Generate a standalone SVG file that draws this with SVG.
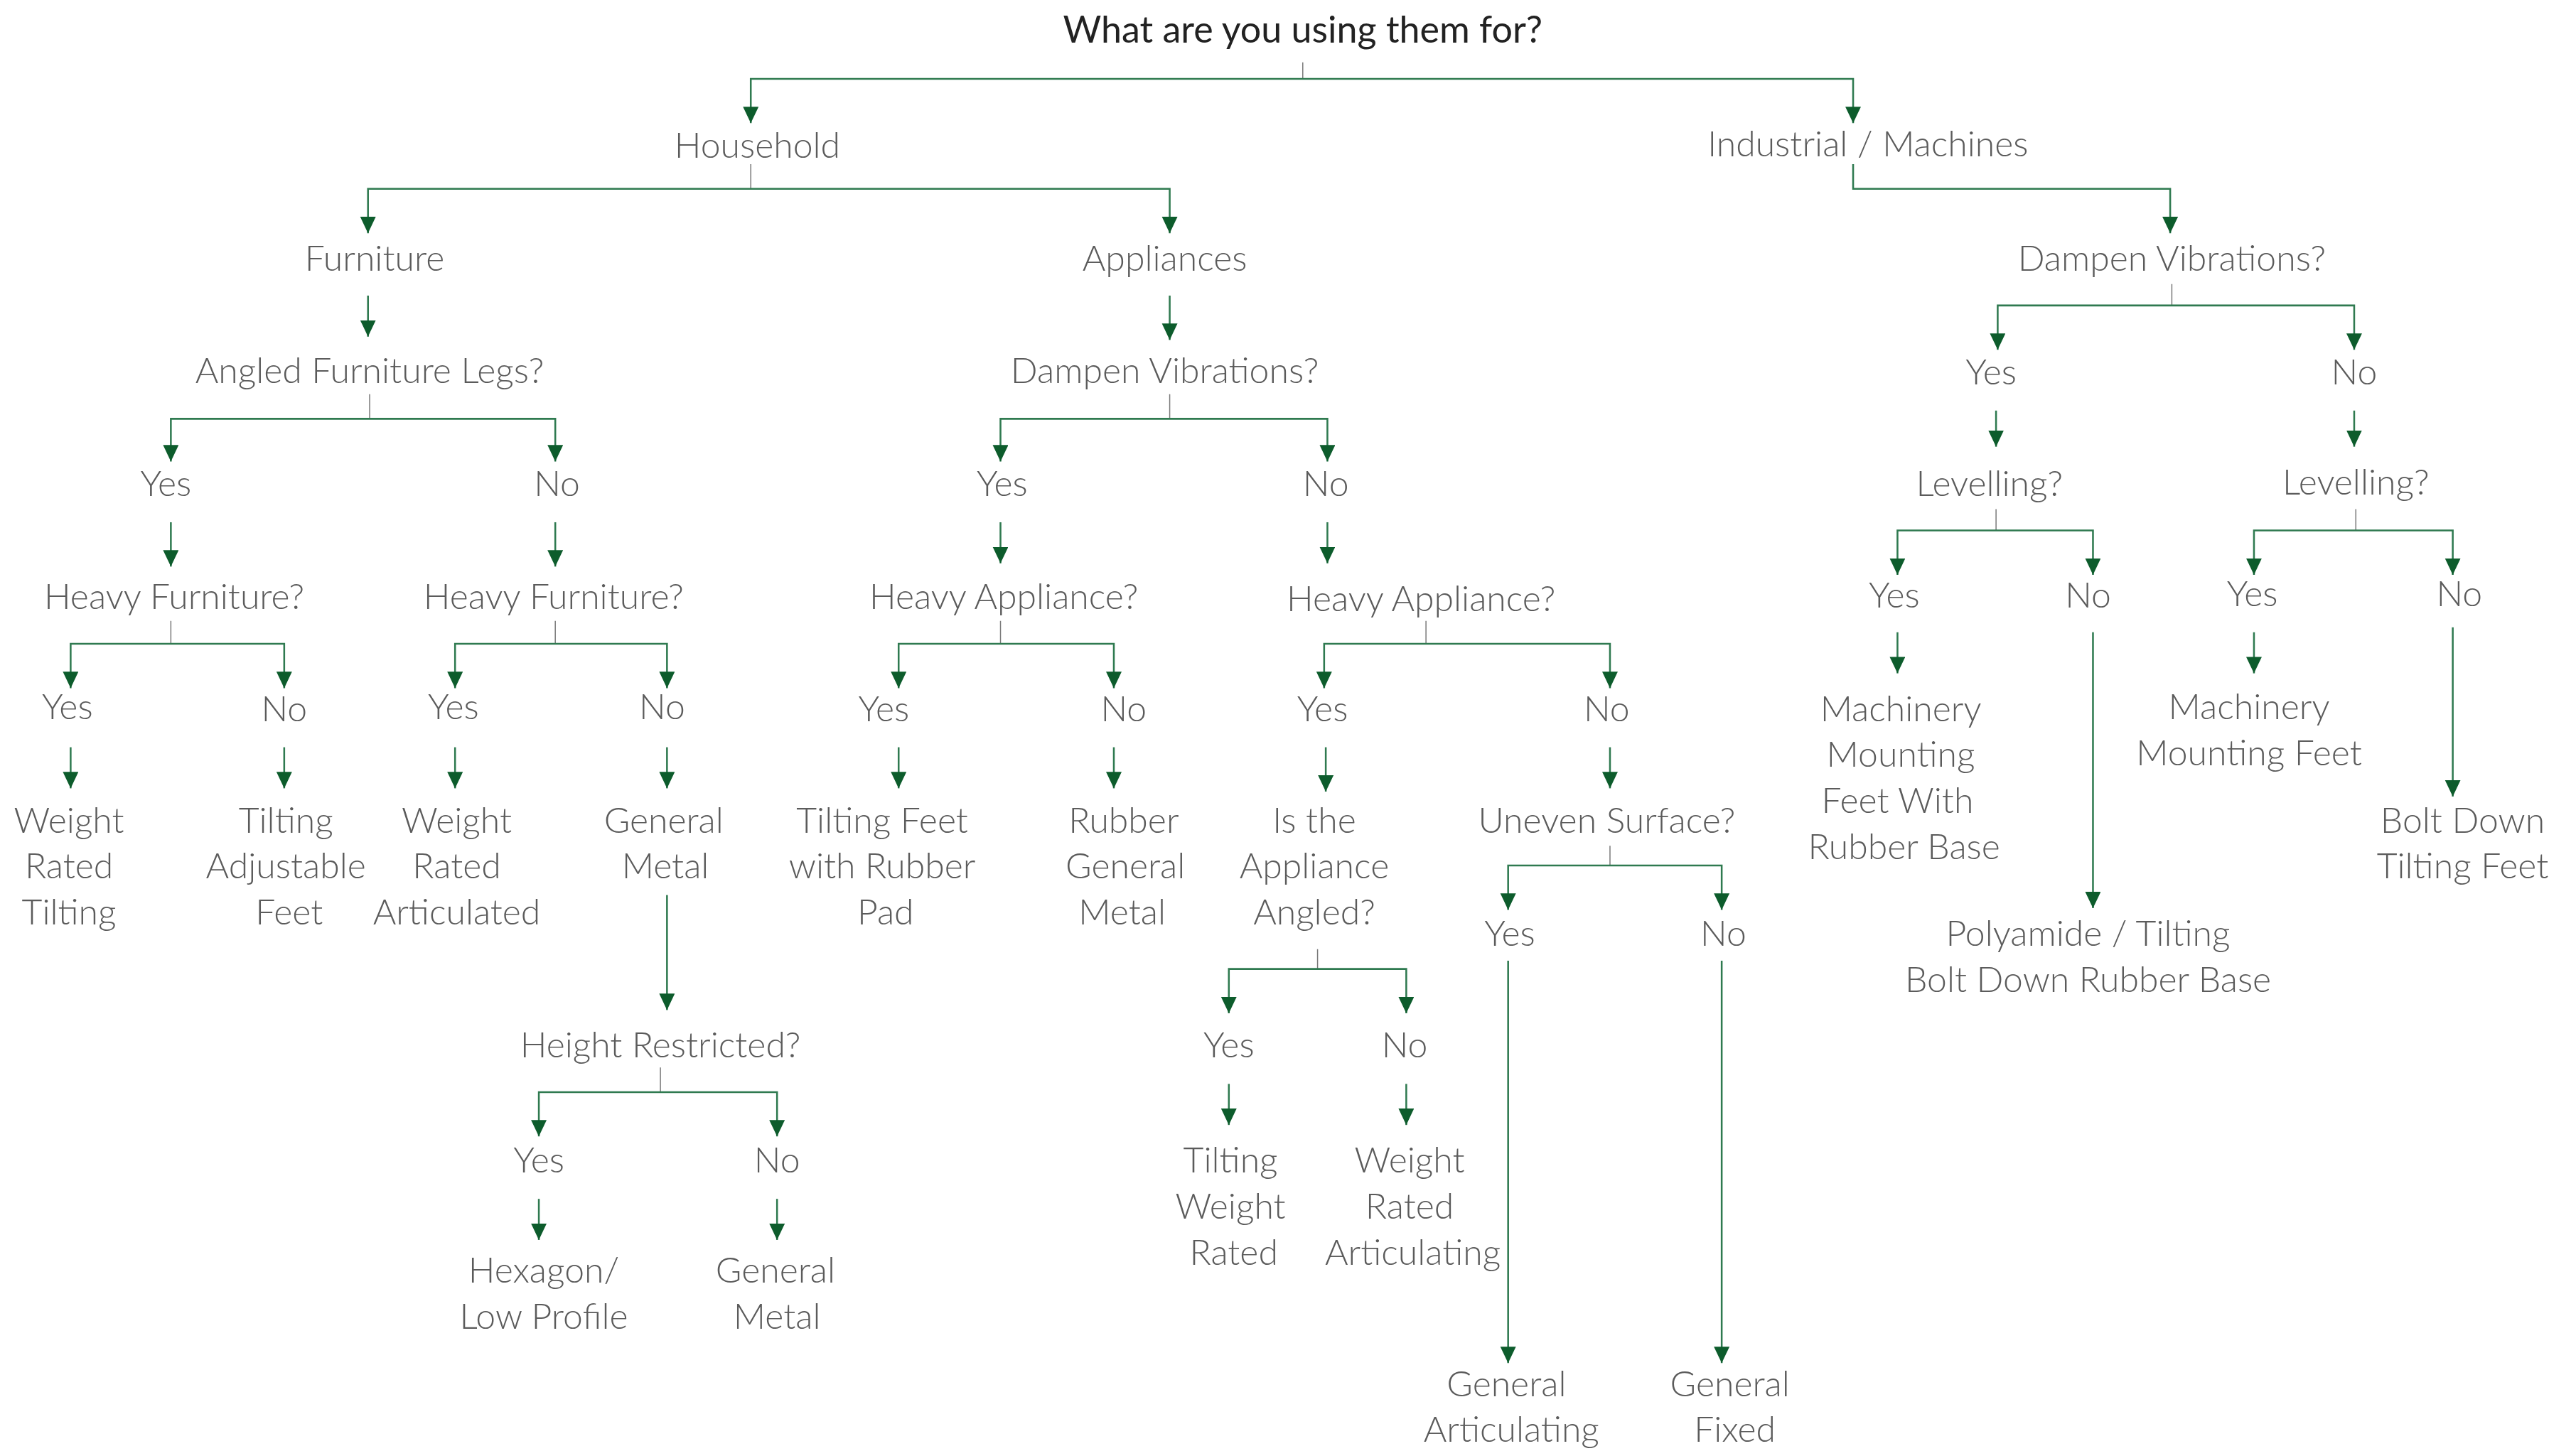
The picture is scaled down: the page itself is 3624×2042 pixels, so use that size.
<svg xmlns="http://www.w3.org/2000/svg" width="3624" height="2042" viewBox="0 0 3624 2042">
<style>
text{font-family:"Lato","Open Sans","Liberation Sans",sans-serif;font-size:21.6px;fill:#5b5b5b;text-anchor:middle;font-weight:300}
.title{font-size:22.5px;fill:#222;font-weight:400}
.stem{stroke:#7a7a7a;stroke-width:0.65;fill:none}
.br{stroke:#2f7a50;stroke-width:1.1;fill:none;marker-start:url(#ah);marker-end:url(#ah)}
.ar{stroke:#2f7a50;stroke-width:1.1;fill:none;marker-end:url(#ah)}
</style>
<defs>
<marker id="ah" markerUnits="userSpaceOnUse" markerWidth="11" markerHeight="11" refX="10" refY="4.75" orient="auto-start-reverse"><path d="M0,0 L10,4.75 L0,9.5 z" fill="#0d5c2c"/></marker>
</defs>
<rect width="3624" height="2042" fill="#fff"/>
<g transform="scale(2.3112)">
<g id="connectors">
<path class="stem" d="M793 38V48M457 100V115M225 240V255M104 378V392M338 378V392M402 650V665M712 240V255M609 378V392M868 378V392M802 578V590M980 515V527M1322 173V186M1215 310V323M1434 310V323"/>
<path class="br" d="M457 75V48H1128V75"/>
<path class="br" d="M224 142V115H712V142"/>
<path class="br" d="M104 281V255H338V281"/>
<path class="br" d="M43 419V392H173V419"/>
<path class="br" d="M277 419V392H406V419"/>
<path class="br" d="M328 692V665H473V692"/>
<path class="br" d="M609 281V255H808V281"/>
<path class="br" d="M547 419V392H678V419"/>
<path class="br" d="M806 419V392H980V419"/>
<path class="br" d="M748 617V590H856V617"/>
<path class="br" d="M918 554V527H1048V554"/>
<path class="br" d="M1216 213V186H1433V213"/>
<path class="br" d="M1155 350V323H1274V350"/>
<path class="br" d="M1372 350V323H1493V350"/>
<path class="ar" d="M1128 100V115H1321V142"/>
<path class="ar" d="M224 180V205"/>
<path class="ar" d="M104 318V345"/>
<path class="ar" d="M338 318V345"/>
<path class="ar" d="M43 455V480"/>
<path class="ar" d="M173 455V480"/>
<path class="ar" d="M277 455V480"/>
<path class="ar" d="M406 455V480"/>
<path class="ar" d="M406 545V615"/>
<path class="ar" d="M328 730V755"/>
<path class="ar" d="M473 730V755"/>
<path class="ar" d="M712 180V207"/>
<path class="ar" d="M609 318V343"/>
<path class="ar" d="M808 318V343"/>
<path class="ar" d="M547 455V480"/>
<path class="ar" d="M678 455V480"/>
<path class="ar" d="M807 455V482"/>
<path class="ar" d="M980 455V480"/>
<path class="ar" d="M748 660V685"/>
<path class="ar" d="M856 660V685"/>
<path class="ar" d="M918 585V830"/>
<path class="ar" d="M1048 585V830"/>
<path class="ar" d="M1215 250V272"/>
<path class="ar" d="M1433 250V272"/>
<path class="ar" d="M1155 385V410"/>
<path class="ar" d="M1274 385V553"/>
<path class="ar" d="M1372 385V410"/>
<path class="ar" d="M1493 382V485"/>
</g>
<g id="title"><text class="title" x="793" y="26">What are you using them for?</text></g>
<g id="household"><text x="461" y="96">Household</text></g>
<g id="industrial"><text x="1137" y="95">Industrial / Machines</text></g>
<g id="furniture"><text x="228" y="165">Furniture</text></g>
<g id="appliances"><text x="709" y="165">Appliances</text></g>
<g id="ind-dampen"><text x="1322" y="165">Dampen Vibrations?</text></g>
<g id="angled"><text x="225" y="233">Angled Furniture Legs?</text></g>
<g id="angled-yes"><text x="101" y="302">Yes</text></g>
<g id="angled-no"><text x="339" y="302">No</text></g>
<g id="hf1"><text x="106" y="371">Heavy Furniture?</text></g>
<g id="hf2"><text x="337" y="371">Heavy Furniture?</text></g>
<g id="hf1-yes"><text x="41" y="438">Yes</text></g>
<g id="hf1-no"><text x="173" y="439">No</text></g>
<g id="wrt"><text x="42" y="507">Weight<tspan x="42" dy="28">Rated</tspan><tspan x="42" dy="28">Tilting</tspan></text></g>
<g id="taf"><text x="174" y="507">Tilting<tspan x="174" dy="28">Adjustable</tspan><tspan x="176" dy="28">Feet</tspan></text></g>
<g id="hf2-yes"><text x="276" y="438">Yes</text></g>
<g id="hf2-no"><text x="403" y="438">No</text></g>
<g id="wra"><text x="278" y="507">Weight<tspan x="278" dy="28">Rated</tspan><tspan x="278" dy="28">Articulated</tspan></text></g>
<g id="gm1"><text x="404" y="507">General<tspan x="405" dy="28">Metal</tspan></text></g>
<g id="height"><text x="402" y="644">Height Restricted?</text></g>
<g id="hr-yes"><text x="328" y="714">Yes</text></g>
<g id="hr-no"><text x="473" y="714">No</text></g>
<g id="hex"><text x="331" y="781">Hexagon/<tspan x="331" dy="28">Low Profile</tspan></text></g>
<g id="gm2"><text x="472" y="781">General<tspan x="473" dy="28">Metal</tspan></text></g>
<g id="app-dampen"><text x="709" y="233">Dampen Vibrations?</text></g>
<g id="app-yes"><text x="610" y="302">Yes</text></g>
<g id="app-no"><text x="807" y="302">No</text></g>
<g id="ha1"><text x="611" y="371">Heavy Appliance?</text></g>
<g id="ha2"><text x="865" y="372">Heavy Appliance?</text></g>
<g id="ha1-yes"><text x="538" y="439">Yes</text></g>
<g id="ha1-no"><text x="684" y="439">No</text></g>
<g id="tfr"><text x="537" y="507">Tilting Feet<tspan x="537" dy="28">with Rubber</tspan><tspan x="539" dy="28">Pad</tspan></text></g>
<g id="rgm"><text x="684" y="507">Rubber<tspan x="685" dy="28">General</tspan><tspan x="683" dy="28">Metal</tspan></text></g>
<g id="ha2-yes"><text x="805" y="439">Yes</text></g>
<g id="ha2-no"><text x="978" y="439">No</text></g>
<g id="isthe"><text x="800" y="507">Is the<tspan x="800" dy="28">Appliance</tspan><tspan x="800" dy="28">Angled?</tspan></text></g>
<g id="uneven"><text x="978" y="507">Uneven Surface?</text></g>
<g id="ia-yes"><text x="748" y="644">Yes</text></g>
<g id="ia-no"><text x="855" y="644">No</text></g>
<g id="twr"><text x="749" y="714">Tilting<tspan x="749" dy="28">Weight</tspan><tspan x="751" dy="28">Rated</tspan></text></g>
<g id="wrart"><text x="858" y="714">Weight<tspan x="858" dy="28">Rated</tspan><tspan x="860" dy="28">Articulating</tspan></text></g>
<g id="us-yes"><text x="919" y="576">Yes</text></g>
<g id="us-no"><text x="1049" y="576">No</text></g>
<g id="ga"><text x="917" y="850">General<tspan x="920" dy="28">Articulating</tspan></text></g>
<g id="gf"><text x="1053" y="850">General<tspan x="1056" dy="28">Fixed</tspan></text></g>
<g id="ind-yes"><text x="1212" y="234">Yes</text></g>
<g id="ind-no"><text x="1433" y="234">No</text></g>
<g id="lev1"><text x="1211" y="302">Levelling?</text></g>
<g id="lev2"><text x="1434" y="301">Levelling?</text></g>
<g id="l1-yes"><text x="1153" y="370">Yes</text></g>
<g id="l1-no"><text x="1271" y="370">No</text></g>
<g id="mmfr"><text x="1157" y="439">Machinery<tspan x="1157" dy="28">Mounting</tspan><tspan x="1155" dy="28">Feet With</tspan><tspan x="1159" dy="28">Rubber Base</tspan></text></g>
<g id="poly"><text x="1271" y="576">Polyamide / Tilting<tspan x="1271" dy="28">Bolt Down Rubber Base</tspan></text></g>
<g id="l2-yes"><text x="1371" y="369">Yes</text></g>
<g id="l2-no"><text x="1497" y="369">No</text></g>
<g id="mmf"><text x="1369" y="438">Machinery<tspan x="1369" dy="28">Mounting Feet</tspan></text></g>
<g id="bdt"><text x="1499" y="507">Bolt Down<tspan x="1499" dy="28">Tilting Feet</tspan></text></g>
</g>
</svg>
